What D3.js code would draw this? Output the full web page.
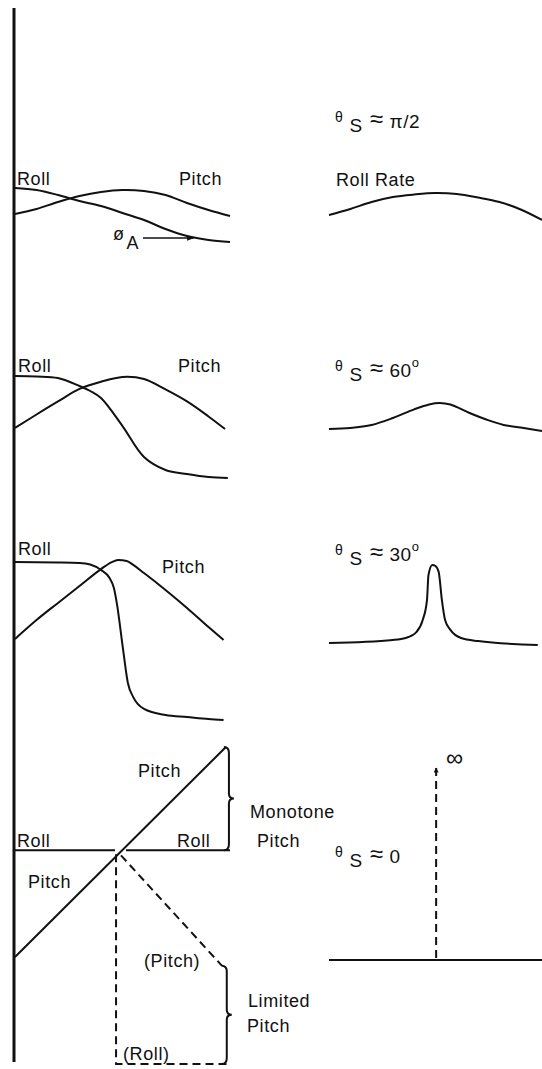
<!DOCTYPE html>
<html>
<head>
<meta charset="utf-8">
<script src="https://cdn.jsdelivr.net/npm/d3@7"></script>
<style>
  body { margin: 0; background: #fff; }
  svg text { font-family: "Liberation Sans", Arial, sans-serif; font-size: 18px; fill: #111; letter-spacing: 0.6px; }
</style>
</head>
<body>
<div id="container"></div>
<script>
/**
 * CONSTANTS AND GLOBALS
 * */
const width = 542,
  height = 1069;

/**
 * DATA (time runs 0..10 across each little plot, responses are normalised)
 * */
// theta_s ~ pi/2
const tRoll1 = [0, 1, 2, 3, 4, 5, 6, 7, 8, 9, 10];
const roll1 = [0.886, 0.857, 0.786, 0.7, 0.629, 0.529, 0.429, 0.3, 0.2, 0.143, 0.114];
const tPitch1 = [0, 1, 2, 3, 4, 5, 6, 7, 8, 9, 10];
const pitch1 = [0.514, 0.586, 0.686, 0.771, 0.829, 0.857, 0.843, 0.786, 0.671, 0.571, 0.486];
const tRate1 = [0, 1, 2, 3, 4, 5, 6, 7, 8, 9, 10];
const rate1 = [0.5, 0.586, 0.686, 0.757, 0.793, 0.814, 0.8, 0.75, 0.686, 0.579, 0.429];

// theta_s ~ 60 deg
const tRoll2 = [0, 1, 2, 3, 3.5, 4, 5, 6, 7, 8, 9, 9.9];
const roll2 = [0.95, 0.946, 0.933, 0.867, 0.825, 0.767, 0.533, 0.275, 0.167, 0.133, 0.108, 0.1];
const tPitch2 = [0, 1, 2, 3, 4, 5, 6, 7, 8, 9, 9.77];
const pitch2 = [0.517, 0.629, 0.738, 0.842, 0.902, 0.942, 0.925, 0.838, 0.738, 0.613, 0.508];
const tRate2 = [0, 1, 2, 3, 4, 4.7, 5.2, 5.7, 6.6, 7.5, 8.2, 9, 10];
const rate2 = [0.508, 0.517, 0.542, 0.6, 0.672, 0.713, 0.725, 0.712, 0.642, 0.58, 0.542, 0.52, 0.492];

// theta_s ~ 30 deg
const tRoll3 = [0, 2, 3, 3.5, 4, 4.4, 4.6, 4.75, 5, 5.25, 5.5, 6, 7, 8, 9, 9.7];
const roll3 = [0.933, 0.931, 0.928, 0.919, 0.889, 0.844, 0.789, 0.694, 0.472, 0.261, 0.183, 0.117, 0.083, 0.072, 0.061, 0.056];
const tPitch3 = [0, 1, 2, 3, 4, 4.5, 4.8, 5.2, 5.5, 6, 7, 8, 9, 9.7];
const pitch3 = [0.506, 0.611, 0.706, 0.8, 0.894, 0.933, 0.944, 0.939, 0.917, 0.872, 0.778, 0.678, 0.572, 0.5];
const tRate3 = [0, 3, 3.6, 4.1, 4.4, 4.6, 4.67, 4.85, 5, 5.15, 5.3, 5.45, 5.7, 6.2, 7, 9.8];
const rate3 = [0.483, 0.5, 0.511, 0.544, 0.611, 0.722, 0.861, 0.917, 0.911, 0.878, 0.722, 0.611, 0.556, 0.511, 0.494, 0.472];

// theta_s ~ 0 (straight lines)
const tPitch4 = [0, 9.81];
const pitch4 = [-1.035, 1.0];
const tRollLeft4 = [0, 4.65];
const tRollRight4 = [5.16, 10];
const roll4 = [0, 0];
const tLimPitch4 = [4.93, 9.63];
const limPitch4 = [-0.05, -1.12];
const tLimRoll4 = [4.7, 4.7, 10];
const limRoll4 = [-0.04, -2.07, -2.07];
const tRate4 = [0, 10];
const rate4 = [0, 0];
const tSpike4 = [5.03, 5.03];
const spike4 = [0.01, 1];

// text
const thetaText = ["π/2", "60", "30", "0"];
const thetaDeg = [false, true, true, false];

let svg;

function init() {
  svg = d3.select("#container")
    .append("svg")
    .attr("width", width)
    .attr("height", height);

  const defs = svg.append("defs");
  defs.append("marker")
    .attr("id", "head")
    .attr("viewBox", "0 0 10 10")
    .attr("refX", 9).attr("refY", 5)
    .attr("markerWidth", 7).attr("markerHeight", 5)
    .attr("markerUnits", "userSpaceOnUse")
    .attr("orient", "auto")
    .append("path").attr("d", "M0,0 L10,5 L0,10 z").attr("fill", "#111");
  defs.append("marker")
    .attr("id", "headBig")
    .attr("viewBox", "0 0 10 10")
    .attr("refX", 9).attr("refY", 5)
    .attr("markerWidth", 14).attr("markerHeight", 7)
    .attr("markerUnits", "userSpaceOnUse")
    .attr("orient", "auto")
    .append("path").attr("d", "M0,1 L10,5 L0,9 z").attr("fill", "#111");

  // scales
  const xLeft = d3.scaleLinear().domain([0, 10]).range([15, 230]);
  const xRight = d3.scaleLinear().domain([0, 10]).range([329, 542]);
  const y1 = d3.scaleLinear().domain([0, 1]).range([250, 180]);
  const y2 = d3.scaleLinear().domain([0, 1]).range([490, 370]);
  const y3 = d3.scaleLinear().domain([0, 1]).range([730, 550]);
  const y4 = d3.scaleLinear().domain([-2.1, 1]).range([1067, 747]);
  const y4r = d3.scaleLinear().domain([0, 1]).range([960, 768]);

  // the vertical axis on the left
  svg.append("line")
    .attr("x1", 14).attr("x2", 14)
    .attr("y1", 8).attr("y2", 1062)
    .attr("stroke", "#111").attr("stroke-width", 3);

  const smooth = d3.curveCatmullRom.alpha(0.5);

  function curve(xs, ys, x, y, shape, dashed) {
    const pts = xs.map((d, i) => [d, ys[i]]);
    const line = d3.line()
      .x((d) => x(d[0]))
      .y((d) => y(d[1]))
      .curve(shape || d3.curveMonotoneX);
    return svg.append("path")
      .datum(pts)
      .attr("d", line)
      .attr("fill", "none")
      .attr("stroke", "#111")
      .attr("stroke-width", 2)
      .attr("stroke-dasharray", dashed ? "8,5" : null);
  }

  // row 1
  curve(tRoll1, roll1, xLeft, y1, smooth);
  curve(tPitch1, pitch1, xLeft, y1, smooth);
  curve(tRate1, rate1, xRight, y1, smooth);
  // row 2
  curve(tRoll2, roll2, xLeft, y2, smooth);
  curve(tPitch2, pitch2, xLeft, y2, smooth);
  curve(tRate2, rate2, xRight, y2, smooth);
  // row 3
  curve(tRoll3, roll3, xLeft, y3);
  curve(tPitch3, pitch3, xLeft, y3);
  curve(tRate3, rate3, xRight, y3);
  // row 4
  curve(tPitch4, pitch4, xLeft, y4, d3.curveLinear);
  curve(tRollLeft4, roll4, xLeft, y4, d3.curveLinear);
  curve(tRollRight4, roll4, xLeft, y4, d3.curveLinear);
  curve(tLimPitch4, limPitch4, xLeft, y4, d3.curveLinear, true);
  curve(tLimRoll4, limRoll4, xLeft, y4, d3.curveLinear, true);
  curve(tRate4, rate4, xRight, y4r, d3.curveLinear);
  curve(tSpike4, spike4, xRight, y4r, d3.curveLinear, true)
    .attr("marker-end", "url(#head)");

  // phi_A arrow in row 1
  svg.append("line")
    .attr("x1", xLeft(5.95)).attr("x2", xLeft(8.3))
    .attr("y1", y1(0.171)).attr("y2", y1(0.171))
    .attr("stroke", "#111").attr("stroke-width", 1.5)
    .attr("marker-end", "url(#headBig)");

  // braces
  function brace(x, ya, yb, w) {
    const m = (ya + yb) / 2;
    const p = d3.path();
    p.moveTo(x - w, ya);
    p.quadraticCurveTo(x, ya, x, ya + 6);
    p.lineTo(x, m - 5);
    p.quadraticCurveTo(x, m, x + w, m);
    p.quadraticCurveTo(x, m, x, m + 5);
    p.lineTo(x, yb - 6);
    p.quadraticCurveTo(x, yb, x - w, yb);
    svg.append("path")
      .attr("d", p.toString())
      .attr("fill", "none")
      .attr("stroke", "#111")
      .attr("stroke-width", 2);
  }
  brace(xLeft(9.95), y4(1.0), y4(0), 5);
  brace(xLeft(9.85), y4(-1.12), y4(-2.07), 5);

  // labels
  const labels = [
    ["Roll", 17, 185], ["Pitch", 179, 185],
    ["Roll", 18, 372], ["Pitch", 178, 372],
    ["Roll", 18, 555], ["Pitch", 162, 573],
    ["Pitch", 138, 777], ["Roll", 17, 847], ["Roll", 177, 847], ["Pitch", 28, 888],
    ["(Pitch)", 144, 967], ["(Roll)", 123, 1060],
    ["Monotone", 250, 818], ["Pitch", 257, 847],
    ["Limited", 248, 1007], ["Pitch", 247, 1032],
    ["Roll Rate", 336, 186],
  ];
  svg.selectAll("text.lab")
    .data(labels)
    .join("text")
    .attr("class", "lab")
    .attr("x", (d) => d[1])
    .attr("y", (d) => d[2])
    .text((d) => d[0]);

  // phi_A
  const phi = svg.append("text").attr("x", 113).attr("y", 240);
  phi.append("tspan").text("ø");
  phi.append("tspan").attr("dy", 9).attr("dx", 2).text("A");

  // theta_s labels
  const thetaBase = [122, 371, 555, 857];
  thetaText.forEach((txt, i) => {
    const tx = svg.append("text").attr("x", 335).attr("y", thetaBase[i]);
    tx.append("tspan").style("font-size", "14px").text("θ");
    tx.append("tspan").attr("dx", 6).attr("dy", 10).style("font-size", "19px").text("S");
    tx.append("tspan").attr("dx", 7).attr("dy", -5).style("font-size", "24px").text("≈");
    tx.append("tspan").attr("dx", 6).attr("dy", 1).style("font-size", "19px").text(txt);
    if (thetaDeg[i]) {
      tx.append("tspan").attr("dy", -10).style("font-size", "13px").text("o");
    }
  });

  // infinity
  svg.append("text")
    .attr("x", 446).attr("y", 766)
    .style("font-size", "24px")
    .text("∞");
}

init();
</script>
</body>
</html>
